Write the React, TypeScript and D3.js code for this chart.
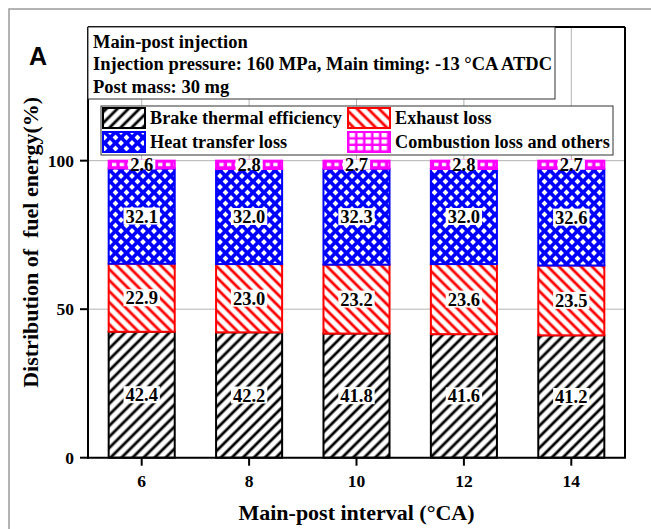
import React from 'react';
import * as d3 from 'd3';

// Main-post interval categories (°CA)
const intervals = ['6', '8', '10', '12', '14'];

// Share of fuel energy per interval (%)
const brakeThermalEfficiency = [42.4, 42.2, 41.8, 41.6, 41.2];
const exhaustLoss = [22.9, 23.0, 23.2, 23.6, 23.5];
const heatTransferLoss = [32.1, 32.0, 32.3, 32.0, 32.6];
const combustionLossOthers = [2.6, 2.8, 2.7, 2.8, 2.7];

const yTickValues = [0, 50, 100];

const annotationLines = [
  'Main-post injection',
  'Injection pressure: 160 MPa, Main timing: -13 °CA ATDC',
  'Post mass: 30 mg',
];

const W = 651;
const H = 529;
const plot = { left: 88, right: 625, top: 27, bottom: 457.7 };
const SERIF = '"Liberation Serif", "Times New Roman", serif';
const SANS = '"Liberation Sans", Arial, sans-serif';

type SeriesKey = 'bte' | 'exh' | 'heat' | 'comb';

const seriesMeta: { key: SeriesKey; label: string; color: string }[] = [
  { key: 'bte', label: 'Brake thermal efficiency', color: '#000000' },
  { key: 'exh', label: 'Exhaust loss', color: '#ff0000' },
  { key: 'heat', label: 'Heat transfer loss', color: '#0000ff' },
  { key: 'comb', label: 'Combustion loss and others', color: '#ff00ff' },
];

const rows = intervals.map((interval, i) => ({
  interval,
  bte: brakeThermalEfficiency[i],
  exh: exhaustLoss[i],
  heat: heatTransferLoss[i],
  comb: combustionLossOthers[i],
}));

const x = d3
  .scaleBand<string>()
  .domain(intervals)
  .range([plot.left, plot.right])
  .paddingInner(0.385)
  .paddingOuter(0.1925);

const y = d3.scaleLinear().domain([0, 145]).range([plot.bottom, plot.top]);

const stacked = d3.stack<any>().keys(seriesMeta.map((s) => s.key))(rows);

// approximate advance width of a bold Times numeric label
const labelWidth = (s: string, size: number) =>
  s.split('').reduce((acc, ch) => acc + (ch === '.' ? 0.25 : 0.5), 0) * size;

const fillFor = (key: SeriesKey, i: number) => {
  if (key === 'bte') return 'url(#hatch-bte)';
  if (key === 'exh') return 'url(#hatch-exh)';
  if (key === 'heat') return 'url(#cross-heat)';
  return `url(#grid-comb-${i})`;
};

const legendItems = [
  { key: 'bte' as SeriesKey, x: 102, y: 107 },
  { key: 'exh' as SeriesKey, x: 347, y: 107 },
  { key: 'heat' as SeriesKey, x: 102, y: 131 },
  { key: 'comb' as SeriesKey, x: 347, y: 131 },
];

export default function App() {
  const bw = x.bandwidth();
  const labelSize = 18.5;

  return (
    <svg
      width={W}
      height={H}
      viewBox={`0 0 ${W} ${H}`}
      style={{ position: 'absolute', left: 0, top: 0, display: 'block', background: '#fff' }}
    >
      <defs>
        <pattern id="hatch-bte" width={7.8} height={7.8} patternUnits="userSpaceOnUse" patternTransform="rotate(45)">
          <rect width={7.8} height={7.8} fill="#fff" />
          <line x1={3.9} y1={0} x2={3.9} y2={7.8} stroke="#000" strokeWidth={2.8} />
        </pattern>
        <pattern id="hatch-exh" width={7.8} height={7.8} patternUnits="userSpaceOnUse" patternTransform="rotate(-45)">
          <rect width={7.8} height={7.8} fill="#fff" />
          <line x1={3.9} y1={0} x2={3.9} y2={7.8} stroke="#ff0000" strokeWidth={2.8} />
        </pattern>
        <pattern id="cross-heat" width={11} height={11} patternUnits="userSpaceOnUse">
          <rect width={11} height={11} fill="#0000ff" />
          {[
            [0, 0],
            [11, 0],
            [0, 11],
            [11, 11],
            [5.5, 5.5],
          ].map(([cx, cy], k) => (
            <polygon
              key={k}
              points={`${cx},${cy - 2.9} ${cx + 2.9},${cy} ${cx},${cy + 2.9} ${cx - 2.9},${cy}`}
              fill="#fff"
            />
          ))}
        </pattern>
        {rows.map((r, i) => (
          <pattern
            key={r.interval}
            id={`grid-comb-${i}`}
            x={(x(r.interval) as number) + 3.3}
            y={y(100)}
            width={7.7}
            height={7.5}
            patternUnits="userSpaceOnUse"
          >
            <rect width={7.7} height={7.5} fill="#ff00ff" />
            <rect x={0} y={2.2} width={4.3} height={3.3} fill="#fff" />
          </pattern>
        ))}
        <pattern id="grid-comb-legend" x={349.5} y={133} width={8} height={6.5} patternUnits="userSpaceOnUse">
          <rect width={8} height={6.5} fill="#ff00ff" />
          <rect x={0} y={0} width={5.5} height={4.2} fill="#fff" />
        </pattern>
      </defs>

      {/* outer figure border */}
      <rect x={9} y={9} width={W + 20} height={H + 20} fill="none" stroke="#9a9a9a" strokeWidth={1.5} />

      {/* panel letter */}
      <text x={38} y={65} fontFamily={SANS} fontWeight="bold" fontSize={25} textAnchor="middle" fill="#000">
        A
      </text>

      {/* grid */}
      <g stroke="#b4b4b4" strokeWidth={1}>
        {yTickValues
          .filter((v) => v > 0)
          .map((v) => (
            <line key={v} x1={plot.left} x2={plot.right} y1={y(v)} y2={y(v)} />
          ))}
        {intervals.map((c) => {
          const cx = (x(c) as number) + bw / 2;
          return <line key={c} x1={cx} x2={cx} y1={plot.top} y2={plot.bottom} />;
        })}
      </g>

      {/* stacked bars */}
      {stacked.map((layer, si) => {
        const meta = seriesMeta[si];
        return (
          <g key={meta.key}>
            {layer.map((d, i) => {
              const x0 = x(rows[i].interval) as number;
              const yTop = y(d[1]);
              const yBot = y(d[0]);
              return (
                <rect
                  key={i}
                  x={x0}
                  y={yTop}
                  width={bw}
                  height={yBot - yTop}
                  fill={fillFor(meta.key, i)}
                  stroke={meta.color}
                  strokeWidth={2}
                />
              );
            })}
          </g>
        );
      })}

      {/* value labels */}
      {stacked.map((layer, si) => {
        const meta = seriesMeta[si];
        return (
          <g key={`lab-${meta.key}`}>
            {layer.map((d, i) => {
              const val = rows[i][meta.key] as number;
              const txt = val.toFixed(1);
              const cx = (x(rows[i].interval) as number) + bw / 2;
              const yTop = y(d[1]);
              const yBot = y(d[0]);
              const cy = (yTop + yBot) / 2;
              const tw = labelWidth(txt, labelSize);
              const rh = Math.min(17, yBot - yTop + 2);
              return (
                <g key={i}>
                  <rect x={cx - tw / 2 - 2} y={cy - rh / 2} width={tw + 4} height={rh} fill="#fff" />
                  <text
                    x={cx}
                    y={cy}
                    dy="0.35em"
                    textAnchor="middle"
                    fontFamily={SERIF}
                    fontWeight="bold"
                    fontSize={labelSize}
                    fill="#000"
                  >
                    {txt}
                  </text>
                </g>
              );
            })}
          </g>
        );
      })}

      {/* frame and axes */}
      <g stroke="#000" strokeWidth={2} fill="none">
        <line x1={plot.left} x2={plot.right} y1={plot.top} y2={plot.top} />
        <line x1={plot.right} x2={plot.right} y1={plot.top} y2={plot.bottom} />
        <line x1={plot.left} x2={plot.left} y1={plot.top} y2={plot.bottom + 1} />
        <line x1={plot.left - 1} x2={plot.right + 1} y1={plot.bottom} y2={plot.bottom} />
        {yTickValues.map((v) => (
          <line key={v} x1={plot.left - 8} x2={plot.left} y1={y(v)} y2={y(v)} />
        ))}
        {intervals.map((c) => {
          const cx = (x(c) as number) + bw / 2;
          return <line key={c} x1={cx} x2={cx} y1={plot.bottom} y2={plot.bottom + 8} />;
        })}
      </g>

      {/* tick labels */}
      <g fontFamily={SERIF} fontWeight="bold" fontSize={17.5} fill="#000">
        {yTickValues.map((v) => (
          <text key={v} x={74} y={y(v)} dy="0.35em" textAnchor="end">
            {v}
          </text>
        ))}
        {intervals.map((c) => (
          <text key={c} x={(x(c) as number) + bw / 2} y={486.5} textAnchor="middle">
            {c}
          </text>
        ))}
      </g>

      {/* axis titles */}
      <text
        x={(plot.left + plot.right) / 2}
        y={520}
        textAnchor="middle"
        fontFamily={SERIF}
        fontWeight="bold"
        fontSize={22}
        fill="#000"
      >
        Main-post interval (°CA)
      </text>
      <text
        transform={`translate(38, ${(plot.top + plot.bottom) / 2}) rotate(-90)`}
        textAnchor="middle"
        fontFamily={SERIF}
        fontWeight="bold"
        fontSize={22}
        fill="#000"
        style={{ whiteSpace: 'pre' }}
      >
        {'Distribution of  fuel energy(%)'}
      </text>

      {/* condition box */}
      <rect x={plot.left} y={plot.top} width={555 - plot.left} height={99 - plot.top} fill="#fff" stroke="#333" strokeWidth={1} />
      <g fontFamily={SERIF} fontWeight="bold" fontSize={18.5} fill="#000">
        {annotationLines.map((line, k) => (
          <text key={k} x={93} y={47.5 + k * 22.5}>
            {line}
          </text>
        ))}
      </g>

      {/* legend */}
      <rect x={101} y={106} width={512} height={49} fill="#fff" stroke="#333" strokeWidth={1} />
      {legendItems.map((it) => {
        const meta = seriesMeta.find((s) => s.key === it.key)!;
        const fill = it.key === 'comb' ? 'url(#grid-comb-legend)' : fillFor(it.key, 0);
        return (
          <g key={it.key}>
            <rect x={it.x + 1} y={it.y + 1} width={42} height={20} fill={fill} stroke={meta.color} strokeWidth={2} />
            <text x={it.x + 48} y={it.y + 17} fontFamily={SERIF} fontWeight="bold" fontSize={18.2} fill="#000">
              {meta.label}
            </text>
          </g>
        );
      })}
    </svg>
  );
}
